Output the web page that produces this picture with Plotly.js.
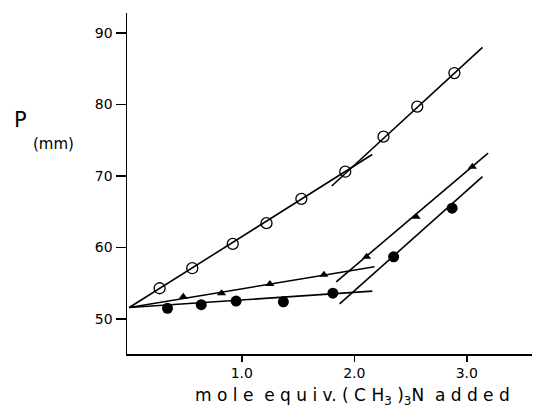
<!DOCTYPE html>
<html>
<head>
<meta charset="utf-8">
<script src="https://cdn.plot.ly/plotly-3.0.1.min.js"></script>
<style>html,body{margin:0;padding:0;background:#fff}#chart{width:533px;height:414px}</style>
</head>
<body>
<div id="chart"></div>
<script>
// Open circles
const openX = [0.27, 0.56, 0.92, 1.22, 1.53, 1.92, 2.26, 2.56, 2.89];
const openY = [54.3, 57.1, 60.5, 63.4, 66.8, 70.6, 75.5, 79.7, 84.4];
// Triangles
const triX = [0.48, 0.82, 1.25, 1.73, 2.11, 2.55, 3.05];
const triY = [53.1, 53.6, 54.9, 56.2, 58.7, 64.3, 71.3];
// Filled circles
const fillX = [0.34, 0.64, 0.95, 1.37, 1.81, 2.35, 2.87];
const fillY = [51.5, 52.0, 52.5, 52.4, 53.6, 58.7, 65.5];
// Fitted line segments (end points)
const openLineAX = [0, 2.16], openLineAY = [51.6, 73.0];
const openLineBX = [1.80, 3.14], openLineBY = [68.6, 88.0];
const triLineAX = [0, 2.18], triLineAY = [51.6, 57.3];
const triLineBX = [1.84, 3.19], triLineBY = [55.2, 73.2];
const fillLineAX = [0, 2.16], fillLineAY = [51.6, 53.9];
const fillLineBX = [1.87, 3.14], fillLineBY = [52.1, 69.9];
const xTicks = [1, 2, 3];
const xTickText = ['1.0', '2.0', '3.0'];
const yTicks = [50, 60, 70, 80, 90];

const lineStyle = {color: '#000', width: 1.6};
function seg(x, y) { return {x: x, y: y, mode: 'lines', line: lineStyle, showlegend: false, hoverinfo: 'skip'}; }

const traces = [
  seg(openLineAX, openLineAY), seg(openLineBX, openLineBY),
  seg(triLineAX, triLineAY), seg(triLineBX, triLineBY),
  seg(fillLineAX, fillLineAY), seg(fillLineBX, fillLineBY),
  {x: openX, y: openY, mode: 'markers', showlegend: false,
   marker: {symbol: 'circle-open', size: 11, color: '#000', line: {width: 1.3, color: '#000'}}},
  {x: triX, y: triY, mode: 'markers', showlegend: false,
   marker: {symbol: 'triangle-up', size: 8, color: '#000'}},
  {x: fillX, y: fillY, mode: 'markers', showlegend: false,
   marker: {symbol: 'circle', size: 11, color: '#000'}}
];

const ff = 'DejaVu Sans, sans-serif';
const layout = {
  width: 533, height: 414,
  margin: {l: 127, r: 1, t: 13, b: 60},
  paper_bgcolor: '#fff', plot_bgcolor: '#fff',
  font: {family: ff, color: '#000'},
  xaxis: {
    range: [-0.02, 3.58], showgrid: false, zeroline: false,
    showline: true, linecolor: '#000', linewidth: 1.5,
    tickmode: 'array', tickvals: xTicks, ticktext: xTickText,
    ticks: 'outside', ticklen: 6, tickwidth: 1.5, tickcolor: '#000',
    tickfont: {family: ff, size: 14, color: '#000'}
  },
  yaxis: {
    range: [45.1, 92.8], showgrid: false, zeroline: false,
    showline: true, linecolor: '#000', linewidth: 1.5,
    tickmode: 'array', tickvals: yTicks,
    ticks: 'outside', ticklen: 10, tickwidth: 1.5, tickcolor: '#000',
    tickfont: {family: ff, size: 14, color: '#000'}
  },
  annotations: [
    {xref: 'paper', yref: 'paper', x: 0.558, y: -0.126, xanchor: 'center', yanchor: 'middle',
     showarrow: false, text: 'm o l e  e q u i v. ( C H<sub>3</sub> )<sub>3</sub>N  a d d e d',
     font: {family: ff, size: 17, color: '#000'}},
    {xref: 'paper', yref: 'paper', x: -0.283, y: 0.686, xanchor: 'left', yanchor: 'middle',
     showarrow: false, text: 'P', font: {family: ff, size: 21, color: '#000'}},
    {xref: 'paper', yref: 'paper', x: -0.237, y: 0.617, xanchor: 'left', yanchor: 'middle',
     showarrow: false, text: '(mm)', font: {family: ff, size: 15, color: '#000'}}
  ]
};
Plotly.newPlot('chart', traces, layout, {displayModeBar: false, staticPlot: true});
</script>
</body>
</html>
